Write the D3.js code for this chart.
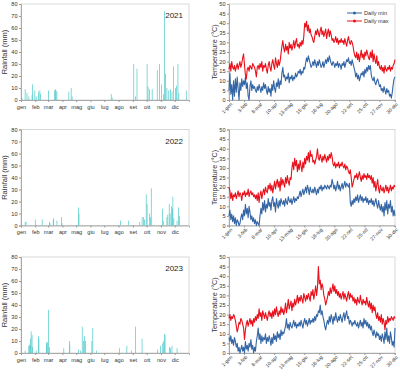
<!DOCTYPE html>
<html>
<head>
<meta charset="utf-8">
<script src="https://cdn.jsdelivr.net/npm/d3@7"></script>
<style>
  body { margin: 0; background: #fff; }
  svg { font-family: "Liberation Sans", Arial, sans-serif; }
  .axis path, .axis line { stroke: #999; }
  .axis text { fill: #333; }
</style>
</head>
<body>
<div id="chart"></div>
<script>
// rainfall: [day of year, mm], dry days left out
const rain2021 = [[2,2],[9,9],[13,6],[17,3],[24,4],[25,13],[30,8],[33,3],[38,7],[41,8],[42,5],[60,8],[73,8],[75,9],[76,8],[78,7],[104,7],[109,10],[111,3],
  [196,5],[198,2],[245,30],[249,3],[252,26],[274,30],[276,11],[279,9],[285,9],[296,25],[301,30],[305,13],[310,5],[312,74],[314,22],[317,10],
  [321,8],[325,9],[328,7],[331,28],[336,10],[338,12],[341,30],[343,6],[359,8]]
const rain2022 = [[9,3],[11,3],[31,5],[46,5],[62,3],[63,2],[70,5],[71,6],[78,4],[88,7],[89,2],[125,15],[126,10],[216,4],[234,4],[258,3],
  [263,7],[266,7],[268,5],[272,26],[274,18],[279,10],[281,7],[283,31],[307,14],[309,4],[317,7],[319,9],[322,18],[324,10],[327,16],[329,14],
  [330,24],[332,6],[339,4],[342,15],[344,8]]
const rain2023 = [[9,2],[17,6],[18,7],[20,6],[21,12],[22,18],[24,15],[25,5],[33,2],[38,14],[39,12],[55,9],[56,7],[58,9],[60,36],[62,5],
  [93,4],[105,10],[106,7],[125,3],[129,2],[133,22],[136,10],[138,14],[140,10],[154,10],[156,21],[164,2],[214,4],[230,6],[240,2],[249,22],
  [263,12],[297,3],[303,6],[308,8],[310,10],[312,16],[313,15],[323,5],[325,4],[328,6],[339,4]]

// daily temperature, one value every 2 days (day 0, 2, 4 ... 364)
const tmax2021 = [16,19,15,20,17,16,18,15,17,19,16,18,20,17,19,22,
  24,18,13,11,16,17,15,18,17,16,19,18,17,15,
  12,17,18,16,19,17,20,15,18,17,19,16,14,18,20,17,
  15,19,21,18,16,22,19,17,21,18,20,24,28,31,27,
  25,29,26,28,24,30,27,29,26,28,31,27,30,32,28,29,
  27,30,28,31,29,33,40,38,41,36,39,35,37,34,33,
  31,30,33,36,34,37,35,33,36,38,34,36,33,35,37,32,
  35,37,33,36,34,31,32,30,31,33,30,32,29,31,30,32,
  30,31,29,32,30,28,31,33,30,29,31,30,28,25,23,
  22,25,21,24,20,23,26,22,24,21,25,23,26,24,22,21,
  25,22,26,20,24,21,19,23,18,20,17,16,18,15,
  17,14,18,16,15,17,16,18,15,17,16,18,19,21]
const tmin2021 = [5,14,3,8,0,10,2,11,4,12,6,0,9,5,11,7,
  10,8,12,6,9,2,0,7,10,5,8,6,7,5,
  4,7,5,8,6,4,7,5,9,6,8,5,3,7,4,6,
  2,8,5,10,6,4,9,7,11,6,10,8,14,17,12,
  13,10,12,11,14,9,12,11,13,10,12,11,14,12,13,15,
  14,16,13,15,14,17,16,19,22,20,23,21,19,17,18,
  20,18,21,19,17,20,18,21,19,17,18,20,17,19,21,19,
  22,20,23,21,19,18,20,19,17,19,18,20,17,19,18,16,
  19,18,20,17,19,21,20,22,19,20,18,21,19,17,15,
  12,14,11,13,10,12,14,13,15,12,16,14,17,15,18,16,
  18,13,11,10,12,9,8,10,11,9,7,8,5,6,
  4,7,5,3,6,4,5,2,3,1,4,8,11,12]

const tmax2022 = [20,18,14,17,13,16,15,17,14,16,18,15,17,16,13,17,
  16,18,15,17,16,19,15,17,18,16,17,15,16,14,
  16,13,17,12,16,18,14,17,19,16,20,18,17,21,19,22,
  18,21,17,20,23,19,22,24,20,23,18,25,21,24,22,
  20,25,22,26,23,21,25,24,30,33,29,35,31,34,28,32,
  29,34,31,28,33,30,35,32,36,34,38,33,39,36,37,
  33,34,32,34,36,40,35,34,37,35,33,36,34,37,35,33,
  36,34,37,35,38,36,32,31,33,30,32,31,33,30,32,31,
  33,31,30,32,29,31,30,28,27,29,25,20,22,24,26,
  25,27,24,26,28,25,23,26,24,27,25,26,24,27,25,26,
  24,26,22,25,20,23,18,21,24,19,17,21,19,18,
  20,17,19,21,18,20,17,19,21,18,20,19,21,20]
const tmin2022 = [5,8,3,6,2,5,1,4,0,3,2,0,1,4,6,3,
  8,5,11,6,9,4,10,7,3,5,2,4,1,3,
  0,2,1,0,5,9,6,12,8,13,7,11,9,14,10,12,
  8,13,15,10,12,7,14,11,9,13,10,14,12,11,13,
  10,14,12,11,15,13,12,14,11,13,15,12,14,13,15,14,
  16,18,15,17,19,16,18,20,17,21,19,16,20,18,17,
  19,17,20,18,16,19,17,20,19,21,18,20,19,21,20,19,
  21,20,19,21,20,24,22,19,21,18,20,23,19,21,18,20,
  22,19,21,23,20,22,21,20,22,12,10,13,11,14,12,
  15,13,16,12,14,16,13,15,12,14,13,15,12,14,11,13,
  12,14,11,13,10,12,14,11,9,13,10,8,11,7,
  10,5,12,8,13,6,11,9,13,7,10,5,8,5]

const tmax2023 = [18,20,17,19,18,20,19,17,14,11,13,16,15,18,17,15,
  13,7,12,15,17,14,16,18,15,17,14,18,16,19,
  17,20,18,23,19,21,17,22,20,18,21,19,17,20,22,19,
  21,18,22,19,23,20,24,21,19,22,20,24,21,23,20,
  22,26,21,24,28,23,25,27,22,26,24,28,25,27,30,26,
  29,27,30,28,26,31,29,27,30,28,31,29,27,32,30,
  33,28,31,35,30,34,45,36,38,33,36,34,30,28,25,27,
  29,32,30,34,31,33,36,32,35,31,33,30,32,29,31,28,
  30,32,28,31,29,27,30,32,28,31,29,30,27,29,26,
  28,25,29,27,26,30,27,25,28,26,27,25,29,26,24,27,
  23,26,21,25,22,24,20,18,21,17,19,16,20,15,
  18,16,12,17,15,19,16,18,17,19,18,17,19,18]
const tmin2023 = [8,6,9,5,7,4,8,6,3,5,1,3,0,2,4,1,
  3,0,6,2,4,1,5,3,7,2,4,0,3,1,
  6,9,13,7,10,5,9,6,8,7,10,5,8,6,9,7,
  4,8,5,10,7,9,6,11,8,10,7,12,9,11,10,
  12,14,18,13,15,12,16,14,13,15,17,14,16,13,15,14,
  16,14,17,15,13,16,18,15,17,14,16,18,15,17,16,
  18,16,19,17,20,19,22,21,25,20,22,19,17,14,12,15,
  17,15,19,16,20,18,15,19,17,21,18,16,19,17,20,18,
  16,19,21,17,20,22,18,19,15,17,16,14,16,15,17,
  15,14,16,13,15,17,14,16,13,18,15,17,14,16,13,15,
  12,14,11,9,12,10,8,11,9,10,7,9,6,10,
  8,5,11,7,13,6,9,5,11,8,4,6,3,13]

const years = ['2021', '2022', '2023']
const monthStarts = [0, 31, 59, 90, 120, 151, 181, 212, 243, 273, 304, 334]
const monthLabels = ['gen', 'feb', 'mar', 'apr', 'mag', 'giu', 'lug', 'ago', 'set', 'ott', 'nov', 'dic']
const dateTicks = [0, 33, 66, 99, 132, 165, 198, 231, 264, 297, 330, 363]
const dateLabels = ['1-gen', '3-feb', '8-mar', '10-apr', '13-mag', '15-giu', '18-lug', '20-ago', '22-set', '25-ott', '27-nov', '30-dic']

const rainData = [rain2021, rain2022, rain2023]
const tminData = [tmin2021, tmin2022, tmin2023]
const tmaxData = [tmax2021, tmax2022, tmax2023]

const dims = {
    width: 400,
    height: 377,
    plotH: 96,
    tops: [4, 129.5, 257],
    rain: { left: 21, width: 168 },
    temp: { left: 229, width: 166 }
}

const svg = d3.select('#chart')
    .append('svg')
    .attr('width', dims.width)
    .attr('height', dims.height)

const minColor = '#3465a4'
const maxColor = '#e8101a'
const rainColor = '#4cc9c9'

function drawRain(i) {
    const g = svg.append('g')
        .attr('transform', `translate(${dims.rain.left},${dims.tops[i]})`)

    const xScale = d3.scaleLinear().domain([0, 365]).range([0, dims.rain.width])
    const yScale = d3.scaleLinear().domain([0, 80]).range([dims.plotH, 0])

    g.append('rect')
        .attr('width', dims.rain.width)
        .attr('height', dims.plotH)
        .attr('fill', 'none')
        .attr('stroke', '#cfcfcf')
        .attr('stroke-width', 0.8)

    // y axis
    const yAxisGroup = g.append('g')
        .attr('class', 'axis')
        .call(d3.axisLeft(yScale).tickValues(d3.range(0, 81, 10)).tickSize(2).tickPadding(1.5))
    yAxisGroup.selectAll('text').attr('font-size', '5.6px')
    yAxisGroup.select('.domain').attr('stroke-width', 0.8)

    // x axis, month starts
    const xAxisGroup = g.append('g')
        .attr('class', 'axis')
        .attr('transform', `translate(0, ${dims.plotH})`)
        .call(d3.axisBottom(xScale).tickValues(monthStarts).tickFormat((d, k) => monthLabels[k]).tickSize(2).tickPadding(3))
    xAxisGroup.selectAll('text').attr('font-size', '5.6px')
    xAxisGroup.select('.domain').attr('stroke-width', 0.8)

    g.append('text')
        .attr('x', -dims.plotH / 2)
        .attr('y', -14)
        .attr('font-size', '7.5px')
        .attr('text-anchor', 'middle')
        .attr('fill', '#333')
        .attr('transform', 'rotate(-90)')
        .text('Rainfall (mm)')

    g.append('text')
        .attr('x', dims.rain.width - 6)
        .attr('y', 14)
        .attr('font-size', '8px')
        .attr('text-anchor', 'end')
        .attr('fill', '#222')
        .text(years[i])

    // Add Data
    g.selectAll('.bar')
        .data(rainData[i])
        .join('rect')
        .attr('class', 'bar')
        .attr('x', d => xScale(d[0]) - 0.35)
        .attr('y', d => yScale(d[1]))
        .attr('width', 0.7)
        .attr('height', d => yScale(0) - yScale(d[1]))
        .attr('fill', rainColor)
}

function drawTemp(i) {
    const g = svg.append('g')
        .attr('transform', `translate(${dims.temp.left},${dims.tops[i]})`)

    const xScale = d3.scaleLinear().domain([0, 364]).range([0, dims.temp.width])
    const yScale = d3.scaleLinear().domain([0, 50]).range([dims.plotH, 0])

    g.append('rect')
        .attr('width', dims.temp.width)
        .attr('height', dims.plotH)
        .attr('fill', 'none')
        .attr('stroke', '#cfcfcf')
        .attr('stroke-width', 0.8)

    const yAxisGroup = g.append('g')
        .attr('class', 'axis')
        .call(d3.axisLeft(yScale).tickValues(d3.range(0, 51, 5)).tickSize(2).tickPadding(1.5))
    yAxisGroup.selectAll('text').attr('font-size', '5.6px')
    yAxisGroup.select('.domain').attr('stroke-width', 0.8)

    const xAxisGroup = g.append('g')
        .attr('class', 'axis')
        .attr('transform', `translate(0, ${dims.plotH})`)
        .call(d3.axisBottom(xScale).tickValues(dateTicks).tickFormat((d, k) => dateLabels[k]).tickSize(2))
    xAxisGroup.select('.domain').attr('stroke-width', 0.8)
    xAxisGroup.selectAll('text')
        .attr('font-size', '5px')
        .attr('y', 3)
        .attr('x', -1)
        .attr('dy', '0.5em')
        .attr('text-anchor', 'end')
        .attr('transform', 'rotate(-45)')

    g.append('text')
        .attr('x', -dims.plotH / 2)
        .attr('y', -12)
        .attr('font-size', '7.2px')
        .attr('text-anchor', 'middle')
        .attr('fill', '#333')
        .attr('transform', 'rotate(-90)')
        .text('Temperature (°C)')

    const line = d3.line()
        .x((d, k) => xScale(k * 2))
        .y(d => yScale(d))

    g.append('path')
        .datum(tminData[i])
        .attr('d', line)
        .attr('fill', 'none')
        .attr('stroke', minColor)
        .attr('stroke-width', 1.1)
        .attr('stroke-linejoin', 'round')

    g.append('path')
        .datum(tmaxData[i])
        .attr('d', line)
        .attr('fill', 'none')
        .attr('stroke', maxColor)
        .attr('stroke-width', 1.1)
        .attr('stroke-linejoin', 'round')

    // Legend, first panel only
    if (i === 0) {
        const legend = g.selectAll('.legend')
            .data([['Daily min', minColor], ['Daily max', maxColor]])
            .join('g')
            .attr('class', 'legend')
            .attr('transform', (d, k) => `translate(118, ${9 + k * 8})`)
        legend.append('line')
            .attr('x1', 0).attr('x2', 15)
            .attr('stroke', d => d[1])
            .attr('stroke-width', 1)
        legend.append('circle')
            .attr('cx', 7.5)
            .attr('r', 1.5)
            .attr('fill', d => d[1])
        legend.append('text')
            .attr('x', 17)
            .attr('dy', '0.35em')
            .attr('font-size', '5.6px')
            .attr('fill', '#333')
            .text(d => d[0])
    }
}

years.forEach((y, i) => {
    drawRain(i)
    drawTemp(i)
})
</script>
</body>
</html>
